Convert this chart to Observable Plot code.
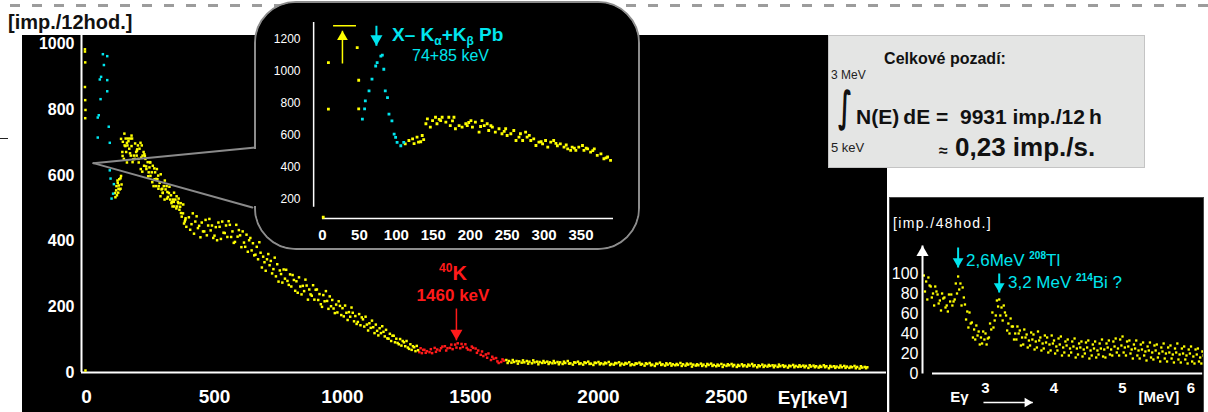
<!DOCTYPE html>
<html><head><meta charset="utf-8">
<script src="https://cdn.jsdelivr.net/npm/d3@7"></script>
<script src="https://cdn.jsdelivr.net/npm/@observablehq/plot@0.6"></script>
<style>
html,body{margin:0;padding:0;background:#fff;}
#wrap{position:relative;width:1208px;height:412px;overflow:hidden;font-family:"Liberation Sans",Arial,sans-serif;}
.abs{position:absolute;white-space:nowrap;line-height:1;}
#dash{position:absolute;left:10px;top:4px;width:1198px;height:3px;background:repeating-linear-gradient(90deg,#9c9c9c 0 10px,transparent 10px 22px);}
#main{position:absolute;left:22px;top:35px;width:865px;height:377px;}
#inset{position:absolute;left:254px;top:1px;width:386px;height:249px;box-sizing:border-box;border:2px solid #8c8c8c;border-radius:42px;background:#000;overflow:hidden;}
#gap{position:absolute;left:254px;top:149px;width:2px;height:57px;background:#000;}
#box{position:absolute;left:828px;top:35px;width:317px;height:133px;box-sizing:border-box;background:#e4e5e4;border:1px solid #c4c4c4;}
#small{position:absolute;left:889px;top:197px;width:315px;height:216px;box-sizing:border-box;border:1px solid #444;background:#000;overflow:hidden;}
#main svg,#inset svg,#small svg{display:block;}
#main g[aria-label="y-axis tick label"],#main g[aria-label="y-axis tick label"] text{font-size:16px;font-weight:bold;}
#main g[aria-label="x-axis tick label"],#main g[aria-label="x-axis tick label"] text{font-size:19px;font-weight:bold;}
#inset g[aria-label="y-axis tick label"],#inset g[aria-label="y-axis tick label"] text{font-size:12px;}
#inset g[aria-label="x-axis tick label"],#inset g[aria-label="x-axis tick label"] text{font-size:15px;font-weight:bold;}
#small g[aria-label="y-axis tick label"],#small g[aria-label="y-axis tick label"] text{font-size:16px;}
#small g[aria-label="x-axis tick label"],#small g[aria-label="x-axis tick label"] text{font-size:15px;font-weight:bold;}
.sb{font-size:12px;vertical-align:-4px;}
.sp{font-size:10px;vertical-align:7px;font-weight:bold;}
</style></head><body>
<div id="wrap">
  <div id="dash"></div>
  <div class="abs" style="left:8px;top:12px;font-weight:bold;font-size:20px;color:#111;">[imp./12hod.]</div>
  <div class="abs" style="left:0;top:138px;width:8px;height:1px;background:#222;"></div>
  <div id="main"></div>
  <div id="inset"></div>
  <div id="gap"></div>
  <div class="abs" style="left:392px;top:25px;font-weight:bold;font-size:19px;color:#00e5ee;">X– K<span class="sb">α</span>+K<span class="sb">β</span> Pb</div>
  <div class="abs" style="left:412px;top:48px;font-size:16px;color:#00e5ee;">74+85 keV</div>
  <div class="abs" style="left:453px;top:262px;transform:translateX(-50%);font-weight:bold;font-size:20px;color:#ff1a1a;"><span style="font-size:12px;vertical-align:8px;">40</span>K</div>
  <div class="abs" style="left:453px;top:287px;transform:translateX(-50%);font-weight:bold;font-size:17px;color:#ff1a1a;">1460 keV</div>
  <div id="box">
    <div class="abs" style="left:116px;top:15px;transform:translateX(-50%);font-weight:bold;font-size:16px;color:#111;">Celkové pozadí:</div>
    <div class="abs" style="left:2px;top:33px;font-size:12px;color:#222;">3 MeV</div>
    <div class="abs" style="left:9px;top:51px;line-height:40px;font-weight:bold;font-size:42px;letter-spacing:-9px;color:#111;font-family:'DejaVu Sans';transform:scaleX(0.55);transform-origin:left top;">∫</div>
    <div class="abs" style="left:27px;top:70px;font-weight:bold;font-size:21px;color:#111;">N(E)&thinsp;dE =&nbsp; 9931 imp./12&thinsp;h</div>
    <div class="abs" style="left:2px;top:105px;font-size:13px;color:#222;">5 keV</div>
    <div class="abs" style="left:110px;top:98px;font-weight:bold;font-size:26px;color:#111;"><span style="font-size:16px;">≈</span> 0,23 imp./s.</div>
  </div>
  <div id="small"></div>
  <div class="abs" style="left:893px;top:216px;font-size:14px;letter-spacing:1.4px;color:#fff;">[imp./48hod.]</div>
  <div class="abs" style="left:966px;top:251px;font-size:17px;color:#00e5ee;">2,6MeV <span class="sp">208</span>Tl</div>
  <div class="abs" style="left:1008px;top:273px;font-size:17px;color:#00e5ee;">3,2 MeV <span class="sp">214</span>Bi ?</div>
</div>
<script>
// ---------- tick values ----------
const mainYTicks = [0, 200, 400, 600, 800, 1000];
const mainXTicks = [0, 500, 1000, 1500, 2000, 2500];
const insetYTicks = [200, 400, 600, 800, 1000, 1200];
const insetXTicks = [0, 50, 100, 150, 200, 250, 300, 350];
const smallYTicks = [0, 20, 40, 60, 80, 100];
const smallXTicks = [3, 4, 5, 6];
const k40Range = [1300, 1620];

// ---------- low-energy spectrum (0-390 keV) ----------
const insetYellowE = [1, 8, 8, 47, 49, 49, 112, 117, 122, 124, 128, 130, 133, 135, 137, 140, 142, 146, 149, 153, 155, 158, 160, 162, 167, 171, 173, 176, 178, 180, 185, 189, 194, 196, 198, 201, 203, 207, 212, 214, 216, 219, 223, 225, 228, 230, 234, 239, 243, 246, 248, 250, 255, 259, 262, 266, 268, 271, 275, 277, 280, 282, 286, 289, 293, 296, 298, 302, 305, 309, 313, 316, 318, 322, 327, 330, 332, 336, 338, 341, 343, 347, 352, 354, 357, 359, 363, 366, 368, 372, 377, 381, 384, 386, 390];
const insetYellowC = [90, 1053, 763, 1146, 943, 765, 547, 568, 578, 548, 589, 558, 560, 599, 573, 672, 703, 651, 692, 713, 672, 700, 692, 713, 682, 713, 661, 690, 713, 641, 661, 651, 672, 661, 680, 692, 651, 682, 620, 655, 692, 661, 672, 630, 660, 651, 620, 641, 610, 625, 641, 599, 610, 630, 568, 589, 610, 568, 620, 589, 600, 568, 578, 537, 558, 560, 547, 568, 527, 558, 568, 550, 535, 547, 527, 540, 516, 506, 527, 520, 506, 527, 537, 506, 520, 516, 496, 505, 516, 475, 485, 454, 460, 465, 444];
const insetCyanE = [54, 57, 58, 63, 67, 72, 74, 79, 81, 83, 85, 88, 90, 94, 97, 99, 101, 106, 110];
const insetCyanC = [701, 765, 815, 877, 950, 1032, 1053, 1094, 1100, 1012, 877, 835, 732, 690, 608, 587, 556, 535, 556];

// ---------- main chart, points as seen near the origin and in 130-390 keV ----------
const mainLowYellowE = [-6, -6, -5, -6, -5, -4, -5, -4, 121, 126, 133, 116, 119, 125, 113];
const mainLowYellowC = [985, 978, 945, 870, 830, 800, 775, 6, 585, 570, 592, 555, 540, 560, 534];
const mainCyanE = [64, 81, 68, 57, 52, 81, 81, 55, 48, 44, 87, 44, 91, 91, 94, 107, 104, 98];
const mainCyanC = [970, 964, 937, 901, 893, 891, 857, 833, 784, 777, 749, 716, 700, 616, 591, 574, 545, 530];
const mainMidE = [135, 141, 148, 152, 158, 164, 170, 176, 183, 190, 197, 204, 211, 218, 226, 233, 241, 249, 257, 265, 273, 281, 290, 298, 306, 315, 324, 333, 342, 351, 360, 369, 378, 387];
const mainMidC = [712, 660, 728, 690, 640, 705, 668, 722, 650, 698, 676, 640, 700, 612, 665, 628, 598, 640, 580, 622, 590, 560, 604, 548, 585, 530, 566, 520, 548, 500, 530, 486, 512, 470];

// ---------- main chart, 400-3040 keV (scatter rows per energy) ----------
const mainE = [400,420,440,460,480,500,520,540,560,580,600,620,640,660,680,700,720,740,760,780,800,820,840,860,880,900,920,940,960,980,1000,1020,1040,1060,1080,1100,1120,1140,1160,1180,1200,1220,1240,1260,1280,1300,1320,1340,1360,1380,1400,1420,1440,1460,1480,1500,1520,1540,1560,1580,1600,1620,1640,1660,1680,1700,1720,1740,1760,1780,1800,1820,1840,1860,1880,1900,1920,1940,1960,1980,2000,2020,2040,2060,2080,2100,2120,2140,2160,2180,2200,2220,2240,2260,2280,2300,2320,2340,2360,2380,2400,2420,2440,2460,2480,2500,2520,2540,2560,2580,2600,2620,2640,2660,2680,2700,2720,2740,2760,2780,2800,2820,2840,2860,2880,2900,2920,2940,2960,2980,3000,3020,3040];
const mainCountsA = [473,423,447,430,468,417,444,425,450,398,418,383,410,359,365,310,340,293,300,313,262,278,238,265,234,253,200,218,221,183,196,160,182,154,162,128,138,113,124,103,112,86,92,72,77,62,
  69,62,75,67,80,75,85,74,86,68,73,54,55,38,44,32,
  38,30,35,30,35,28,33,29,33,28,32,26,35,24,33,24,33,23,32,25,32,24,31,24,31,23,30,21,29,20,30,21,28,22,29,21,27,21,27,19,27,19,26,20,26,17,25,18,26,16,24,18,22,17,22,15,23,17,21,14,21,15,22,13,19,15,20,14,20,12,17];
const mainCountsB = [435,460,412,465,433,443,407,448,413,450,382,420,372,383,320,345,302,330,274,279,297,243,264,222,266,221,236,194,195,217,171,184,156,178,140,150,120,135,110,118,92,102,80,86,65,74,
  60,71,63,74,67,85,76,87,75,79,60,64,45,48,34,40,
  29,38,27,37,27,37,25,35,26,35,25,33,27,31,26,31,26,30,25,30,23,29,22,29,22,28,24,28,22,27,23,28,21,26,20,27,18,25,20,26,20,24,17,25,19,23,19,24,19,22,17,23,16,24,17,21,16,22,16,22,16,20,16,20,14,21,14,18,13,19,13];
const mainCountsC = [452,476,457,418,448,403,460,413,430,414,430,368,394,345,353,361,315,277,314,267,282,290,248,253,222,239,217,232,181,203,204,170,172,144,170,136,146,120,130,96,103,82,96,69,81,59,
  65,59,70,79,74,71,89,78,70,75,67,50,58,42,29,36,
  35,32,34,31,33,31,32,30,31,29,31,29,28,30,28,29,27,29,28,28,26,28,27,27,25,27,26,26,24,26,25,24,25,23,25,24,24,22,24,23,23,21,23,22,23,20,22,21,22,19,21,20,21,19,20,19,20,18,20,18,19,17,19,17,18,16,18,16,17,15,16];
const mainCountsD = [485,440,430,448,410,457,426,461,395,434,396,403,357,397,336,327,350,311,286,299,249,262,283,238,252,208,248,202,207,175,182,198,148,168,146,158,127,141,104,112,90,96,76,80,68,69];

// ---------- 48 h spectrum, 2.1-6.15 MeV (three scatter rows per energy) ----------
const smallE = [2.10,2.15,2.20,2.25,2.30,2.35,2.40,2.45,2.50,2.55,2.60,2.65,2.70,2.75,2.80,2.85,2.90,2.95,3.00,3.05,3.10,3.15,3.20,3.25,3.30,3.35,3.40,3.45,3.50,3.55,3.60,3.65,3.70,3.75,3.80,3.85,3.90,3.95,4.00,4.05,4.10,4.15,4.20,4.25,4.30,4.35,4.40,4.45,4.50,4.55,4.60,4.65,4.70,4.75,4.80,4.85,4.90,4.95,5.00,5.05,5.10,5.15,5.20,5.25,5.30,5.35,5.40,5.45,5.50,5.55,5.60,5.65,5.70,5.75,5.80,5.85,5.90,5.95,6.00,6.05,6.10,6.15];
const smallCountsA = [98,74,87,68,79,63,76,62,79,74,97,68,69,46,51,34,42,30,40,36,61,58,74,53,58,40,47,34,43,29,39,28,39,26,36,25,36,23,33,23,37,21,34,21,35,19,32,20,33,18,32,19,34,16,33,18,35,18,37,18,33,15,33,15,31,13,31,14,29,12,30,12,28,11,30,11,27,10,27,10,25,10];
const smallCountsB = [82,96,76,87,70,80,66,79,68,90,84,86,54,61,36,48,29,42,29,50,46,73,58,68,43,55,34,47,28,44,26,41,24,42,23,38,21,38,20,35,18,32,18,32,16,30,17,31,15,29,16,30,17,30,19,32,21,34,21,32,20,29,18,29,18,27,16,28,16,26,15,26,15,25,14,25,14,24,12,24,12,22];
const smallCountsC = [92,88,80,82,73,75,68,72,72,80,90,76,62,50,44,38,36,34,35,44,53,67,66,61,50,47,40,40,36,36,33,34,32,33,30,31,29,30,27,29,26,28,25,27,25,26,24,26,23,25,23,25,24,26,24,27,25,28,26,27,24,25,23,24,22,23,21,23,20,22,20,21,19,21,19,20,18,20,17,19,16,18];

// ---------- annotation arrows (data coordinates) ----------
const k40Arrow = [{x1: 1445, y1: 195, x2: 1445, y2: 98}];
const calloutUpper = [{E: 27, C: 638}, {E: 660, C: 686}];
const calloutLower = [{E: 27, C: 638}, {E: 648, C: 503}];
const pbArrow = [{x1: 73, y1: 1282, x2: 73, y2: 1158}];
const offScaleArrow = [{x1: 27, y1: 1047, x2: 27, y2: 1252}];
const offScaleBar = {y: 1283, x1: 15, x2: 46};
const tlArrow = [{x1: 2.6, y1: 126, x2: 2.6, y2: 106}];
const biArrow = [{x1: 3.2, y1: 100, x2: 3.2, y2: 81}];
const smallYAxisArrow = [{x1: 2.08, y1: 0, x2: 2.08, y2: 128}];
const smallEArrow = [{x1: 2.97, y1: -29, x2: 3.69, y2: -29}];

const YEL = "#ffff00", CYA = "#00e5ee", RED = "#ff1a1a";
const FONT = '"Liberation Sans", Arial, sans-serif';
const plain = d => String(d);

function arrowMarks(data, color, dir, w = 2, r = 4) {
  const off = r * 1.555;
  const o = {down: [180, 0, -off], up: [0, 0, off], right: [90, -off, 0]}[dir];
  return [
    Plot.link(data, {x1: "x1", y1: "y1", x2: "x2", y2: "y2", stroke: color, strokeWidth: w}),
    Plot.dot(data, {x: "x2", y: "y2", symbol: "triangle", r, fill: color, stroke: "none", rotate: o[0], dx: o[1], dy: o[2]})
  ];
}
function scatter(E, C, color, opts = {}) {
  return Plot.dot(E.map((e, i) => ({E: e, C: C[i]})), {x: "E", y: "C", symbol: "square", r: 1.4, fill: color, stroke: "none", ...opts});
}
const inK40 = e => e >= k40Range[0] && e <= k40Range[1];

// ---------- main chart ----------
const yMaxMain = 1027;
const sharedYellow = insetYellowE.map((e, i) => ({E: e, C: insetYellowC[i]})).filter(d => d.E >= 110 && d.C <= yMaxMain);
const rowShift = [0, 1.3, 2.6, 3.9];
const mainRowMarks = [mainCountsA, mainCountsB, mainCountsC, mainCountsD].flatMap((row, k) => {
  const pts = row.map((c, i) => ({E: mainE[i], C: c}));
  return [
    Plot.dot(pts.filter(d => !inK40(d.E)), {x: "E", y: "C", symbol: "square", r: 1.4, fill: YEL, stroke: "none", dx: rowShift[k]}),
    Plot.dot(pts.filter(d => inK40(d.E)), {x: "E", y: "C", symbol: "square", r: 1.4, fill: RED, stroke: "none", dx: rowShift[k]})
  ];
});

const mainPlot = Plot.plot({
  width: 865, height: 377,
  marginLeft: 59, marginRight: 1, marginTop: 0, marginBottom: 40,
  style: {background: "#000", color: "#fff", fontFamily: FONT},
  x: {domain: [-19.5, 3125]},
  y: {domain: [0, yMaxMain]},
  marks: [
    Plot.axisY({ticks: mainYTicks, tickFormat: plain, tickSize: 0, tickPadding: 7, label: null}),
    Plot.axisX({ticks: mainXTicks, tickFormat: plain, tickSize: 0, tickPadding: 17, label: null}),
    Plot.ruleX([-19.5], {stroke: "#fff", strokeWidth: 2}),
    Plot.ruleY([0], {stroke: "#fff", strokeWidth: 2}),
    Plot.text(["Eγ[keV]"], {x: 2836, y: 0, dy: 25, fill: "#fff", fontSize: 19, fontWeight: "bold"}),
    scatter(mainLowYellowE, mainLowYellowC, YEL),
    Plot.dot(sharedYellow, {x: "E", y: "C", symbol: "square", r: 1.4, fill: YEL, stroke: "none"}),
    scatter(mainMidE, mainMidC, YEL),
    ...mainRowMarks,
    scatter(mainCyanE, mainCyanC, CYA),
    Plot.line(calloutUpper, {x: "E", y: "C", stroke: "#8a8a8a", strokeWidth: 2}),
    Plot.line(calloutLower, {x: "E", y: "C", stroke: "#8a8a8a", strokeWidth: 2}),
    ...arrowMarks(k40Arrow, RED, "down", 1.5, 4.5)
  ]
});
document.getElementById("main").appendChild(mainPlot);

// ---------- inset (0-390 keV) ----------
const insetPlot = Plot.plot({
  width: 382, height: 245,
  marginLeft: 66, marginRight: 25, marginTop: 19, marginBottom: 30,
  style: {background: "#000", color: "#fff", fontFamily: FONT},
  x: {domain: [0, 394]},
  y: {domain: [82, 1303]},
  marks: [
    Plot.axisY({ticks: insetYTicks, tickFormat: plain, tickSize: 0, tickPadding: 22, label: null}),
    Plot.axisX({ticks: insetXTicks, tickFormat: plain, tickSize: 0, tickPadding: 11, label: null}),
    Plot.ruleX([-12], {y1: 152, y2: 1303, stroke: "#fff", strokeWidth: 1.5}),
    Plot.ruleY([82], {x1: 0, x2: 394, stroke: "#fff", strokeWidth: 1.5}),
    scatter(insetYellowE, insetYellowC, YEL, {r: 1.6}),
    scatter(insetCyanE, insetCyanC, CYA, {r: 1.6}),
    Plot.ruleY([offScaleBar], {y: "y", x1: "x1", x2: "x2", stroke: YEL, strokeWidth: 1.5}),
    ...arrowMarks(offScaleArrow, YEL, "up", 1.5, 4),
    ...arrowMarks(pbArrow, CYA, "down", 2, 4.5)
  ]
});
document.getElementById("inset").appendChild(insetPlot);

// ---------- 48 h spectrum ----------
const smallShift = [0, 1.1, 2.3];
const smallRowMarks = [smallCountsA, smallCountsB, smallCountsC].map((row, k) =>
  scatter(smallE, row, YEL, {dx: smallShift[k], r: 1.3}));
const smallPlot = Plot.plot({
  width: 313, height: 214,
  marginLeft: 32, marginRight: 0, marginTop: 0, marginBottom: 39,
  style: {background: "#000", color: "#fff", fontFamily: FONT},
  x: {domain: [2.08, 6.182]},
  y: {domain: [0, 175]},
  marks: [
    Plot.axisY({ticks: smallYTicks, tickFormat: plain, tickSize: 0, tickPadding: 4, label: null}),
    Plot.axisX({ticks: smallXTicks, tickFormat: plain, tickSize: 0, tickPadding: 9, label: null}),
    Plot.ruleY([0], {x1: 2.226, x2: 6.17, stroke: "#fff", strokeWidth: 2}),
    ...smallRowMarks,
    ...arrowMarks(smallYAxisArrow, "#fff", "up", 2, 4.5),
    ...arrowMarks(smallEArrow, "#fff", "right", 1.5, 3.5),
    Plot.text(["Eγ"], {x: 2.62, y: -24, fill: "#fff", fontSize: 15, fontWeight: "bold"}),
    Plot.text(["[MeV]"], {x: 5.53, y: -24, fill: "#fff", fontSize: 15, fontWeight: "bold"}),
    ...arrowMarks(tlArrow, CYA, "down", 2, 4),
    ...arrowMarks(biArrow, CYA, "down", 2, 4)
  ]
});
document.getElementById("small").appendChild(smallPlot);
</script>
</body></html>
